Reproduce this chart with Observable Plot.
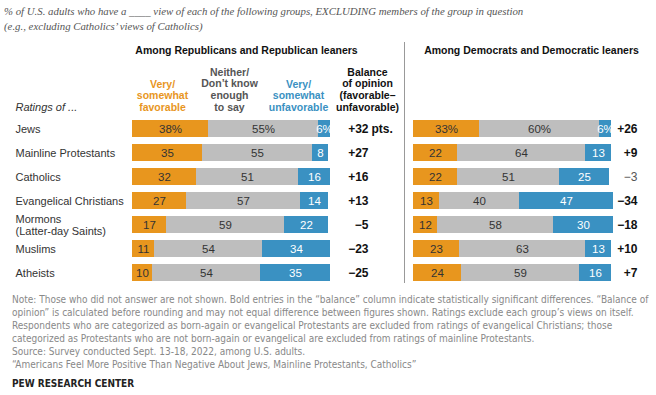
<!DOCTYPE html>
<html><head><meta charset="utf-8">
<script src="https://cdn.jsdelivr.net/npm/d3@7"></script>
<script src="https://cdn.jsdelivr.net/npm/@observablehq/plot@0.6"></script>
<style>
body{margin:0;background:#fff;width:656px;height:395px;overflow:hidden;font-family:"Liberation Sans",Arial,sans-serif}
#title{font-family:"Liberation Serif","DejaVu Serif",serif;font-style:italic;font-size:10.8px;color:#555;line-height:15px;padding:4px 0 0 4px;height:40px;box-sizing:border-box;white-space:nowrap}
#chart svg{display:block}
#notes{font-family:"Liberation Sans Narrow","DejaVu Sans Condensed",sans-serif;font-size:10px;color:#888;line-height:13px;padding:1px 0 0 12px;white-space:nowrap}
#pew{font-weight:bold;color:#222;margin-top:6px}
</style></head><body>
<div id="title">% of U.S. adults who have a ____ view of each of the following groups, EXCLUDING members of the group in question<br>(e.g., excluding Catholics’ views of Catholics)</div>
<div id="chart"></div>
<div id="notes">Note: Those who did not answer are not shown. Bold entries in the “balance” column indicate statistically significant differences. “Balance of<br>opinion” is calculated before rounding and may not equal difference between figures shown. Ratings exclude each group’s views on itself.<br>Respondents who are categorized as born-again or evangelical Protestants are excluded from ratings of evangelical Christians; those<br>categorized as Protestants who are not born-again or evangelical are excluded from ratings of mainline Protestants.<br>Source: Survey conducted Sept. 13-18, 2022, among U.S. adults.<br>“Americans Feel More Positive Than Negative About Jews, Mainline Protestants, Catholics”<div id="pew">PEW RESEARCH CENTER</div></div>
<script>
const categories = ["Jews","Mainline Protestants","Catholics","Evangelical Christians","Mormons\n(Latter-day Saints)","Muslims","Atheists"];
const repFavorable   = [38,35,32,27,17,11,10];
const repNeither     = [55,55,51,57,59,54,54];
const repUnfavorable = [6,8,16,14,22,34,35];
const repBalance     = [32,27,16,13,-5,-23,-25];
const repSignificant = [true,true,true,true,true,true,true];
const demFavorable   = [33,22,22,13,12,23,24];
const demNeither     = [60,64,51,40,58,63,59];
const demUnfavorable = [6,13,25,47,30,13,16];
const demBalance     = [26,9,-3,-34,-18,10,7];
const demSignificant = [true,true,false,true,true,true,true];

const COLORS = {fav:"#E8961E", neither:"#BEBEBE", unfav:"#3A91C2"};
const W = 656, H = 252;
const REP0 = 66, DEM0 = 206.5;   // bar origins (x units = 2px)
const REPBAL = 184, DEMBAL = 318.5;

const segs = [];
const bal = [];
function addParty(off, fav, nei, unf, balance, sig, balX){
  categories.forEach((c,i)=>{
    const a = off, b = a+fav[i], d = b+nei[i], e = d+unf[i];
    const pct = i===0 ? "%" : "";
    segs.push({cat:c, kind:"fav", x1:a, x2:b, label:fav[i]+pct});
    segs.push({cat:c, kind:"neither", x1:b, x2:d, label:nei[i]+pct});
    segs.push({cat:c, kind:"unfav", x1:d, x2:e, label:unf[i]+pct});
    const v = balance[i];
    bal.push({cat:c, x:balX, sig:sig[i], label:(v>0?"+":v<0?"\u2212":"")+Math.abs(v)});
  });
}
addParty(REP0, repFavorable, repNeither, repUnfavorable, repBalance, repSignificant, REPBAL);
addParty(DEM0, demFavorable, demNeither, demUnfavorable, demBalance, demSignificant, DEMBAL);

const hdr4 = [
  {x: REP0+48.5, t:"Neither/\nDon’t know\nenough\nto say"},
  {x: REP0+117.5, t:"Balance\nof opinion\n(favorable\u2013\nunfavorable)"}
];
const hdr3 = [
  {x: REP0+15, t:"Very/\nsomewhat\nfavorable"},
  {x: REP0+83, t:"Very/\nsomewhat\nunfavorable"}
];

const mid = d => (d.x1+d.x2)/2;
const H4 = {frameAnchor:"top", lineAnchor:"middle", dy:49, fontSize:10.5, fontWeight:"bold", lineHeight:1.12};
const H3 = {...H4, dy:55};
const plot = Plot.plot({
  width: W, height: H, margin: 0,
  x: {domain:[0,328], axis:null},
  y: {domain: categories, range:[75.4,245.1], paddingInner:0.3, paddingOuter:0.15, axis:null},
  color: {domain:["fav","neither","unfav"], range:[COLORS.fav, COLORS.neither, COLORS.unfav]},
  style: {fontFamily:"Liberation Sans, Arial, sans-serif"},
  marks: [
    Plot.ruleX([202], {stroke:"#999", strokeWidth:1, insetTop:2, insetBottom:H-243}),
    Plot.barX(segs, {x1:"x1", x2:"x2", y:"cat", fill:"kind"}),
    Plot.text(segs.filter(d=>d.kind!=="unfav"), {x:mid, y:"cat", text:"label", fill:"#333", fontSize:11.5}),
    Plot.text(segs.filter(d=>d.kind==="unfav"), {x:mid, y:"cat", text:"label", fill:"#fff", fontSize:11.5}),
    Plot.text(categories, {x:7.5, y:d=>d, text:d=>d, textAnchor:"start", fill:"#333", fontSize:11, lineHeight:1.1}),
    Plot.text(bal.filter(d=>d.sig), {x:"x", y:"cat", text:"label", textAnchor:"end", fill:"#111", fontSize:12, fontWeight:"bold"}),
    Plot.text(bal.filter(d=>!d.sig), {x:"x", y:"cat", text:"label", textAnchor:"end", fill:"#555", fontSize:12}),
    Plot.text([categories[0]], {x:REPBAL, y:d=>d, dx:3, text:["pts."], textAnchor:"start", fill:"#111", fontSize:12, fontWeight:"bold"}),
    Plot.text(["Among Republicans and Republican leaners"], {x:REP0+57, frameAnchor:"top", lineAnchor:"middle", dy:10, text:d=>d, fill:"#111", fontSize:10.5, fontWeight:"bold"}),
    Plot.text(["Among Democrats and Democratic leaners"], {x:DEM0+59, frameAnchor:"top", lineAnchor:"middle", dy:10, text:d=>d, fill:"#111", fontSize:10.5, fontWeight:"bold"}),
    Plot.text(hdr4.slice(0,1), {...H4, x:"x", text:"t", fill:"#555"}),
    Plot.text(hdr4.slice(1), {...H4, x:"x", text:"t", fill:"#111"}),
    Plot.text(hdr3.slice(0,1), {...H3, x:"x", text:"t", fill:COLORS.fav}),
    Plot.text(hdr3.slice(1), {...H3, x:"x", text:"t", fill:COLORS.unfav}),
    Plot.text(["Ratings of ..."], {x:7.5, frameAnchor:"top", lineAnchor:"middle", dy:67, text:d=>d, textAnchor:"start", fill:"#333", fontSize:11, fontStyle:"italic"})
  ]
});
document.getElementById("chart").appendChild(plot);
</script>
</body></html>
